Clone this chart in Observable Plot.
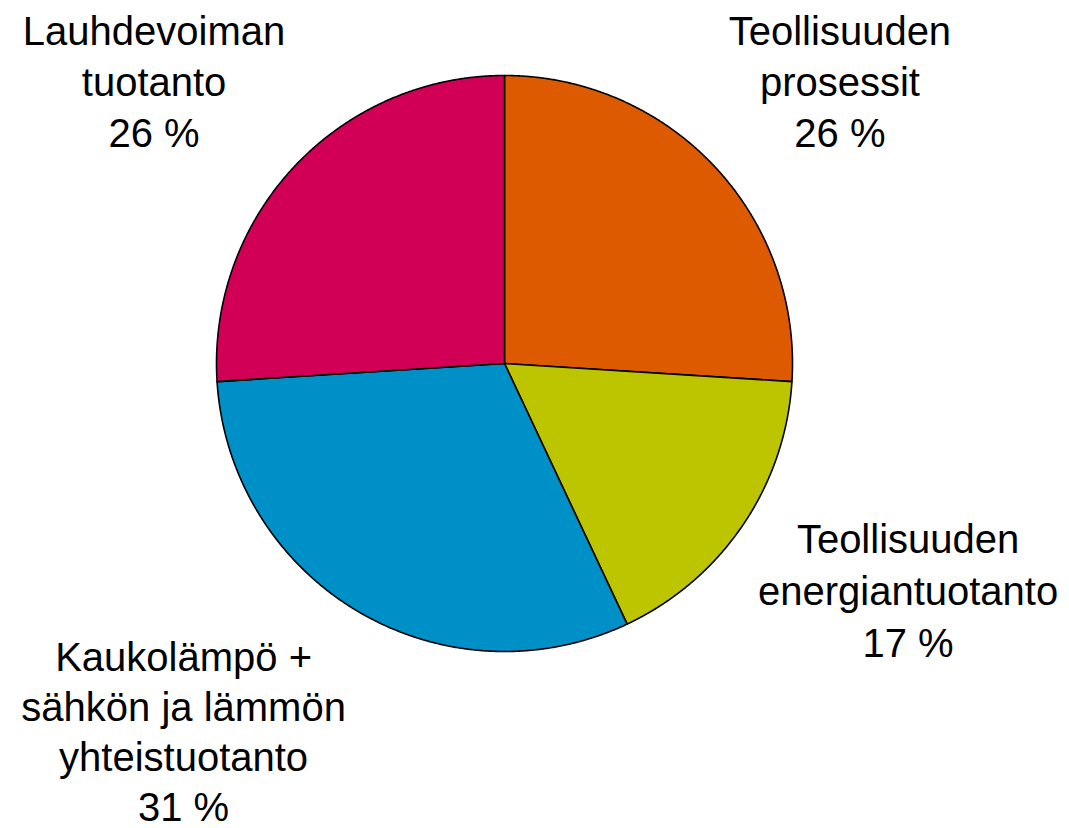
<!DOCTYPE html>
<html>
<head>
<meta charset="utf-8">
<script src="https://cdn.jsdelivr.net/npm/d3@7"></script>
<script src="https://cdn.jsdelivr.net/npm/@observablehq/plot@0.6"></script>
<style>
  html, body { margin: 0; padding: 0; background: #fff; }
  #chart svg { display: block; }
</style>
</head>
<body>
<div id="chart"></div>
<script>
// Data
const categories = [
  "Teollisuuden prosessit",
  "Teollisuuden energiantuotanto",
  "Kaukolämpö + sähkön ja lämmön yhteistuotanto",
  "Lauhdevoiman tuotanto"
];
const values = [26, 17, 31, 26];
const labels = [
  "Teollisuuden\nprosessit\n26 %",
  "Teollisuuden\nenergiantuotanto\n17 %",
  "Kaukolämpö +\nsähkön ja lämmön\nyhteistuotanto\n31 %",
  "Lauhdevoiman\ntuotanto\n26 %"
];
const colors = ["#DE5A00", "#BDC400", "#0090C8", "#D10056"];

// Layout (label nudges in px)
const labelRadius = 1.35;
const labelNudge = [[52, -18], [82, 6], [-123, 32], [-67, -18]];
const labelLineHeights = [1.28, 1.3, 1.25, 1.28];

const pie = d3.pie().sort(null).value(d => d.value);
const arcs = pie(categories.map((name, i) => ({name, value: values[i], label: labels[i]})));

const points = [];
const step = Math.PI / 720;
for (const a of arcs) {
  points.push({name: a.data.name, x: 0, y: 0});
  const n = Math.max(2, Math.ceil((a.endAngle - a.startAngle) / step));
  for (let k = 0; k <= n; k++) {
    const t = a.startAngle + (a.endAngle - a.startAngle) * k / n;
    points.push({name: a.data.name, x: Math.sin(t), y: Math.cos(t)});
  }
}

const labelData = arcs.map((a, i) => {
  const m = (a.startAngle + a.endAngle) / 2;
  return {
    label: a.data.label,
    x: labelRadius * Math.sin(m),
    y: labelRadius * Math.cos(m),
    dx: labelNudge[i][0],
    dy: labelNudge[i][1],
    lh: labelLineHeights[i]
  };
});

const marks = [
  Plot.line(points, {
    x: "x", y: "y", z: "name", fill: "name",
    stroke: "black", strokeWidth: 1.6, strokeLinejoin: "round",
    curve: "linear-closed"
  })
];
for (const d of labelData) {
  marks.push(Plot.text([d], {
    x: "x", y: "y", text: "label", dx: d.dx, dy: d.dy,
    fontSize: 40, lineHeight: d.lh, lineAnchor: "middle",
    textAnchor: "middle", fill: "black"
  }));
}

const chart = Plot.plot({
  width: 1069,
  height: 828,
  margin: 0,
  style: {fontFamily: "Arial, 'Liberation Sans', sans-serif", background: "white", overflow: "visible"},
  x: {domain: [-1, 1], range: [216, 792], axis: null},
  y: {domain: [-1, 1], range: [651, 75], axis: null},
  color: {domain: categories, range: colors},
  marks
});
document.getElementById("chart").appendChild(chart);
</script>
</body>
</html>
